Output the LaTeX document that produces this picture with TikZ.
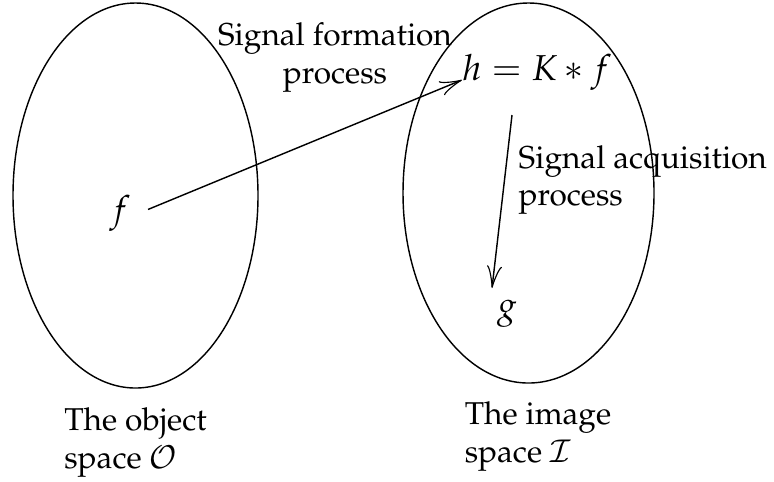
\documentclass[tikz,border=0pt]{standalone}
\usepackage[T1]{fontenc}
\usepackage{mathpazo}
\usetikzlibrary{shapes.geometric,arrows.meta,positioning}

\begin{document}
\begin{tikzpicture}[
    x=0.3165pt, y=-0.3165pt, line width=0.45pt,
    space/.style={draw,ellipse,inner sep=0pt},
    lbl/.style={inner sep=0pt,align=left},
    sym/.style={inner sep=0pt,anchor=base,font=\fontsize{11.4}{14}\selectfont},
    arrow/.style={-{Classical TikZ Rightarrow[length=7pt,width=4.8pt]}}
  ]
    \useasboundingbox (0,0) rectangle (774,481);

    \node[space,minimum width=77.54pt,minimum height=121.85pt] (objsp) at (135.5,195.5) {};
    \node[space,minimum width=79.44pt,minimum height=120.27pt] (imgsp) at (528.5,193) {};

    \node[sym] (f) at (120,221) {$f$};
    \node[sym] (hK) at (537,80) {$h = K \ast f$};
    \node[sym] (g) at (507,317) {$g$};

    \node[lbl,align=center] (form) at (335,57.5) {Signal formation\\process};
    \node[lbl,anchor=west] (acq) at (518,180) {Signal acquisition\\process};
    \node[lbl,below=5.7pt of objsp] (objtxt) {The object\\space $\mathcal{O}$};
    \node[lbl,below=5.5pt of imgsp,xshift=3pt] (imgtxt) {The image\\space $\mathcal{I}$};

    \draw[arrow,shorten <=9.6pt] (f.base) -- (hK.base west);
    \draw[arrow] ([shift={(-25,35)}]hK.base) -- ([shift={(-15,-29)}]g.base);
\end{tikzpicture}
\end{document}
